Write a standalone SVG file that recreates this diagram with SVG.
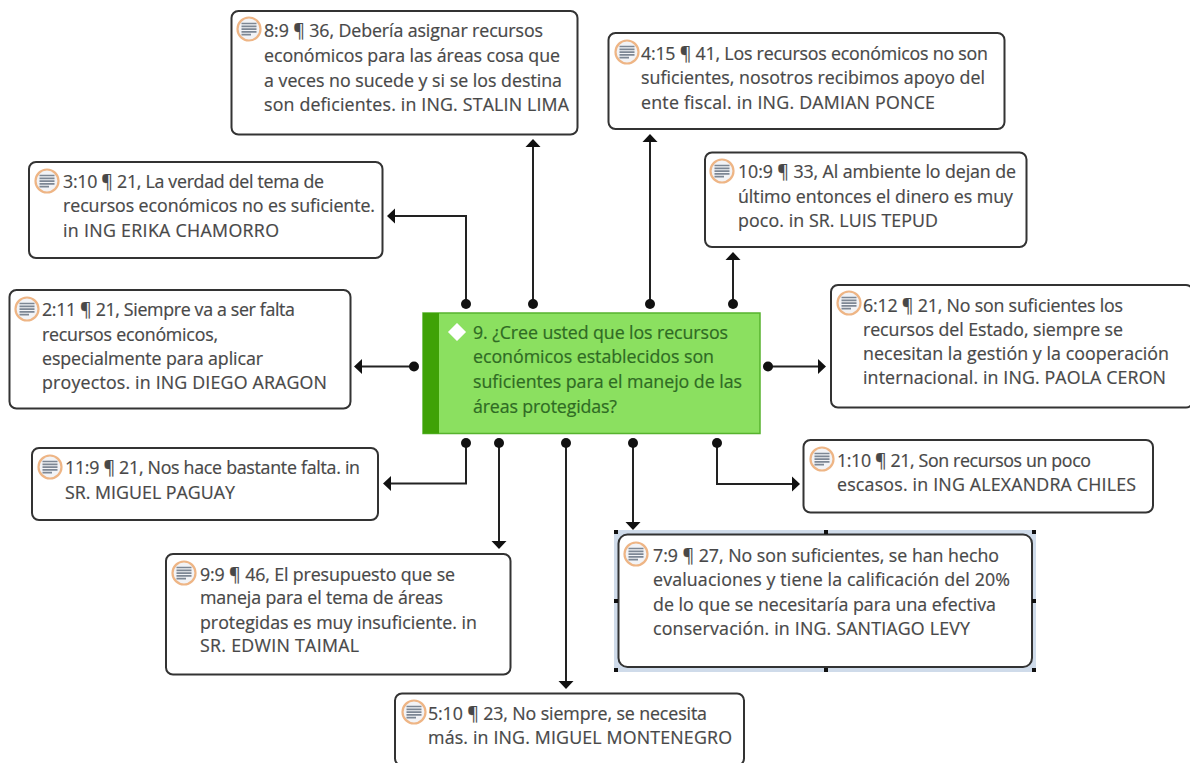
<svg xmlns="http://www.w3.org/2000/svg" width="1190" height="763" viewBox="0 0 1190 763">
<style>
.n{fill:#fff;stroke:#333;stroke-width:2}
text{font-family:"Open Sans","Noto Sans","Liberation Sans",sans-serif;font-size:17.8px;font-weight:500;fill:#484848;stroke:#484848;stroke-width:.2}
.q{fill:#2f6b24;stroke:#2f6b24}
.c{fill:none;stroke:#222;stroke-width:2}
.d{fill:#111}
.h{fill:#111}
</style>
<defs>
<marker id="a" markerUnits="userSpaceOnUse" markerWidth="10" markerHeight="16" refX="6" refY="8" orient="auto"><path d="M0 0.500L8 8L0 15.500z" fill="#111"/></marker>
<g id="i"><circle cx="0" cy="0" r="11.500" fill="#f2f3f6" stroke="#eeb585" stroke-width="2.200"/><path d="M-7.500-5.500H7.500M-7.500-2.700H7.500M-7.500 0.100H7.500M-7.500 2.900H7.500M-7.500 5.700H2" stroke="#7d8794" stroke-width="1.700" fill="none"/></g>
</defs>
<g id="connectors">
<path class="c" marker-end="url(#a)" d="M466 304V216H389"/><circle class="d" cx="466" cy="304" r="5"/>
<path class="c" marker-end="url(#a)" d="M533 304V141"/><circle class="d" cx="533" cy="304" r="5"/>
<path class="c" marker-end="url(#a)" d="M650 304V136"/><circle class="d" cx="650" cy="304" r="5"/>
<path class="c" marker-end="url(#a)" d="M733 304V254"/><circle class="d" cx="733" cy="304" r="5"/>
<path class="c" marker-end="url(#a)" d="M414 366.500H356"/><circle class="d" cx="414" cy="366.500" r="5"/>
<path class="c" marker-end="url(#a)" d="M768 366.500H824"/><circle class="d" cx="768" cy="366.500" r="5"/>
<path class="c" marker-end="url(#a)" d="M466 443V483.500H385"/><circle class="d" cx="466" cy="443" r="5"/>
<path class="c" marker-end="url(#a)" d="M499 443V547"/><circle class="d" cx="499" cy="443" r="5"/>
<path class="c" marker-end="url(#a)" d="M566 443V687"/><circle class="d" cx="566" cy="443" r="5"/>
<path class="c" marker-end="url(#a)" d="M633 443V528"/><circle class="d" cx="633" cy="443" r="5"/>
<path class="c" marker-end="url(#a)" d="M717 443V484H798"/><circle class="d" cx="717" cy="443" r="5"/>
</g>
<g id="center">
<rect x="423" y="313" width="337" height="120.500" fill="#8be060" stroke="#57b32e" stroke-width="1.500"/>
<rect x="423" y="313" width="16" height="120.500" fill="#3fa207"/>
<path d="M457 323L466 332L457 341L448 332z" fill="#fff" stroke="#cdeebb"/>
<text class="q"><tspan x="473" y="339" textLength="255">9. ¿Cree usted que los recursos</tspan><tspan x="473" y="363" textLength="241">económicos establecidos son</tspan><tspan x="473" y="388" textLength="269">suficientes para el manejo de las</tspan><tspan x="473" y="413" textLength="144">áreas protegidas?</tspan></text>
</g>
<g id="n8"><rect class="n" x="231.500" y="11" width="346" height="123.500" rx="7"/><use href="#i" x="249" y="29"/>
<text><tspan x="264" y="37" textLength="279">8:9 ¶ 36, Debería asignar recursos</tspan><tspan x="264" y="62" textLength="296">económicos para las áreas cosa que</tspan><tspan x="264" y="87" textLength="298">a veces no sucede y si se los destina</tspan><tspan x="264" y="111" textLength="305">son deficientes. in ING. STALIN LIMA</tspan></text></g>
<g id="n4"><rect class="n" x="608.500" y="33" width="396" height="96" rx="7"/><use href="#i" x="627" y="52"/>
<text><tspan x="641" y="60" textLength="347">4:15 ¶ 41, Los recursos económicos no son</tspan><tspan x="641" y="84" textLength="344">suficientes, nosotros recibimos apoyo del</tspan><tspan x="641" y="109" textLength="294">ente fiscal. in ING. DAMIAN PONCE</tspan></text></g>
<g id="n10"><rect class="n" x="705" y="152.500" width="321.500" height="94.500" rx="7"/><use href="#i" x="722" y="171"/>
<text><tspan x="738" y="178" textLength="278">10:9 ¶ 33, Al ambiente lo dejan de</tspan><tspan x="738" y="203" textLength="275">último entonces el dinero es muy</tspan><tspan x="738" y="227" textLength="200">poco. in SR. LUIS TEPUD</tspan></text></g>
<g id="n3"><rect class="n" x="29" y="162" width="353.500" height="96" rx="7"/><use href="#i" x="47" y="181"/>
<text><tspan x="63" y="188" textLength="261">3:10 ¶ 21, La verdad del tema de</tspan><tspan x="63" y="212" textLength="312">recursos económicos no es suficiente.</tspan><tspan x="63" y="237" textLength="216">in ING ERIKA CHAMORRO</tspan></text></g>
<g id="n2"><rect class="n" x="9.500" y="290" width="341" height="118.500" rx="7"/><use href="#i" x="27" y="309"/>
<text><tspan x="42" y="316" textLength="253">2:11 ¶ 21, Siempre va a ser falta</tspan><tspan x="42" y="341" textLength="176">recursos económicos,</tspan><tspan x="42" y="365" textLength="221">especialmente para aplicar</tspan><tspan x="42" y="389" textLength="285">proyectos. in ING DIEGO ARAGON</tspan></text></g>
<g id="n6"><rect class="n" x="831" y="285" width="362" height="122.500" rx="7"/><use href="#i" x="849" y="303"/>
<text><tspan x="863" y="312" textLength="260">6:12 ¶ 21, No son suficientes los</tspan><tspan x="863" y="336" textLength="260">recursos del Estado, siempre se</tspan><tspan x="863" y="360" textLength="306">necesitan la gestión y la cooperación</tspan><tspan x="863" y="384" textLength="303">internacional. in ING. PAOLA CERON</tspan></text></g>
<g id="n11"><rect class="n" x="32" y="448" width="346" height="72" rx="7"/><use href="#i" x="50" y="467"/>
<text><tspan x="65" y="474" textLength="295">11:9 ¶ 21, Nos hace bastante falta. in</tspan><tspan x="65" y="499" textLength="170">SR. MIGUEL PAGUAY</tspan></text></g>
<g id="n1"><rect class="n" x="803.500" y="440" width="349.500" height="72.500" rx="7"/><use href="#i" x="822" y="459"/>
<text><tspan x="837" y="467" textLength="254">1:10 ¶ 21, Son recursos un poco</tspan><tspan x="837" y="491" textLength="299">escasos. in ING ALEXANDRA CHILES</tspan></text></g>
<g id="n7">
<rect x="614" y="530" width="422" height="142" fill="#cfdbea"/>
<rect class="n" x="618.500" y="534.500" width="413.500" height="132.500" rx="9"/><use href="#i" x="636" y="554"/>
<rect class="h" x="614" y="530" width="4" height="4"/><rect class="h" x="824" y="530" width="4" height="4"/><rect class="h" x="1032" y="530" width="4" height="4"/><rect class="h" x="614" y="599" width="4" height="4"/><rect class="h" x="1032" y="599" width="4" height="4"/><rect class="h" x="614" y="668" width="4" height="4"/><rect class="h" x="824" y="668" width="4" height="4"/><rect class="h" x="1032" y="668" width="4" height="4"/>
<text><tspan x="653" y="562" textLength="346">7:9 ¶ 27, No son suficientes, se han hecho</tspan><tspan x="653" y="586" textLength="357">evaluaciones y tiene la calificación del 20%</tspan><tspan x="653" y="611" textLength="343">de lo que se necesitaría para una efectiva</tspan><tspan x="653" y="635" textLength="317">conservación. in ING. SANTIAGO LEVY</tspan></text></g>
<g id="n9"><rect class="n" x="166" y="554" width="344.500" height="120.500" rx="7"/><use href="#i" x="184" y="573"/>
<text><tspan x="200" y="581" textLength="255">9:9 ¶ 46, El presupuesto que se</tspan><tspan x="200" y="604" textLength="243">maneja para el tema de áreas</tspan><tspan x="200" y="629" textLength="277">protegidas es muy insuficiente. in</tspan><tspan x="200" y="652" textLength="159">SR. EDWIN TAIMAL</tspan></text></g>
<g id="n5"><rect class="n" x="395" y="693.500" width="349" height="72" rx="7"/><use href="#i" x="414" y="712"/>
<text><tspan x="428" y="720" textLength="279">5:10 ¶ 23, No siempre, se necesita</tspan><tspan x="428" y="744" textLength="304">más. in ING. MIGUEL MONTENEGRO</tspan></text></g>
</svg>
